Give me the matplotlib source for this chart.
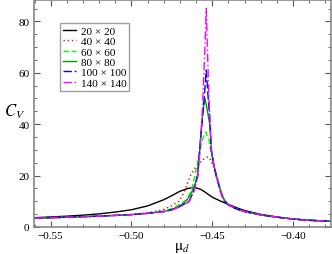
import matplotlib
matplotlib.use("Agg")
import matplotlib.pyplot as plt
from matplotlib.ticker import MultipleLocator

plt.rcParams['font.family'] = ['Liberation Serif', 'DejaVu Serif']
plt.rcParams['mathtext.fontset'] = 'stix'

labels = ["20 \u00d7 20", "40 \u00d7 40", "60 \u00d7 60", "80 \u00d7 80", "100 \u00d7 100", "140 \u00d7 140"]

x20 = [-0.56, -0.55, -0.54, -0.53, -0.52, -0.51, -0.50, -0.49, -0.48, -0.475, -0.47, -0.465, -0.462,
       -0.46, -0.457, -0.455, -0.45, -0.445, -0.44, -0.435, -0.43, -0.42, -0.41, -0.40, -0.39, -0.375]
y20 = [3.6, 3.9, 4.2, 4.6, 5.1, 5.8, 6.7, 8.2, 10.6, 12.2, 13.9, 15.0, 15.3,
       15.2, 14.6, 13.8, 11.6, 10.1, 8.8, 7.5, 6.4, 4.9, 3.9, 3.1, 2.6, 2.2]

x40 = [-0.56, -0.54, -0.52, -0.50, -0.49, -0.48, -0.475, -0.4705, -0.467, -0.4635, -0.46, -0.457, -0.455,
       -0.4527, -0.451, -0.449, -0.447, -0.445, -0.443, -0.44, -0.435, -0.43, -0.42, -0.41, -0.40, -0.39, -0.375]
y40 = [3.4, 3.8, 4.2, 4.9, 5.5, 6.8, 8.3, 10.0, 14.0, 20.0, 23.5, 25.5, 26.5,
       27.3, 26.0, 23.0, 19.5, 14.5, 11.0, 8.8, 7.0, 6.0, 4.7, 3.8, 3.1, 2.6, 2.2]

x60 = [-0.56, -0.54, -0.52, -0.50, -0.49, -0.48, -0.475, -0.47, -0.466, -0.463, -0.4607, -0.4585, -0.4565,
       -0.455, -0.454, -0.4521, -0.451, -0.4495, -0.4474, -0.445, -0.443, -0.44, -0.435, -0.43, -0.42,
       -0.41, -0.40, -0.39, -0.375]
y60 = [3.4, 3.8, 4.2, 4.8, 5.3, 6.2, 7.2, 8.8, 10.5, 14.0, 20.0, 27.0, 33.0,
       36.0, 37.0, 34.0, 30.0, 25.0, 20.0, 14.5, 11.0, 8.7, 7.0, 6.0, 4.7,
       3.8, 3.1, 2.6, 2.2]

x80 = [-0.56, -0.54, -0.52, -0.50, -0.49, -0.48, -0.475, -0.47, -0.466, -0.463, -0.4605, -0.459, -0.4578,
       -0.4566, -0.4555, -0.4545, -0.4535, -0.4516, -0.4505, -0.449, -0.4474, -0.445, -0.443, -0.44, -0.435,
       -0.43, -0.42, -0.41, -0.40, -0.39, -0.375]
y80 = [3.4, 3.8, 4.2, 4.8, 5.3, 6.0, 6.8, 8.2, 10.2, 13.0, 17.0, 20.5, 30.0,
       40.0, 46.0, 50.0, 47.0, 40.0, 30.0, 24.0, 20.0, 14.5, 11.0, 8.6, 7.0,
       6.0, 4.7, 3.8, 3.1, 2.6, 2.2]

x100 = [-0.56, -0.54, -0.52, -0.50, -0.49, -0.48, -0.475, -0.47, -0.4643, -0.4615, -0.459, -0.4577, -0.4564,
        -0.455, -0.4537, -0.4525, -0.4513, -0.4506, -0.449, -0.4476, -0.445, -0.4428, -0.44, -0.435, -0.43,
        -0.42, -0.41, -0.40, -0.39, -0.375]
y100 = [3.4, 3.8, 4.2, 4.8, 5.3, 6.0, 6.7, 8.0, 10.0, 14.0, 20.0, 30.0, 40.0,
        50.0, 61.0, 50.0, 40.0, 30.0, 24.0, 20.0, 14.0, 10.0, 8.5, 7.0, 6.0,
        4.7, 3.8, 3.1, 2.6, 2.2]

x140 = [-0.56, -0.54, -0.52, -0.50, -0.49, -0.48, -0.475, -0.47, -0.4643, -0.4615, -0.459, -0.4577, -0.4565,
        -0.4555, -0.4545, -0.4537, -0.453, -0.4523, -0.4513, -0.4506, -0.449, -0.4476, -0.445, -0.4428, -0.44,
        -0.435, -0.43, -0.42, -0.41, -0.40, -0.39, -0.375]
y140 = [3.4, 3.8, 4.2, 4.8, 5.3, 5.9, 6.6, 7.8, 9.8, 13.5, 19.5, 29.0, 40.0,
        55.0, 70.0, 85.0, 70.0, 55.0, 40.0, 30.0, 24.0, 20.0, 14.0, 10.0, 8.5,
        7.0, 6.0, 4.7, 3.8, 3.1, 2.6, 2.2]

series = [(x20, y20), (x40, y40), (x60, y60), (x80, y80), (x100, y100), (x140, y140)]
colors = ['black', '#ff0000', '#00ff00', '#00a000', '#0000ff', '#ff00ff']
styles = ['-', (0, (1, 2)), (0, (4, 2)), '-', (0, (6, 2)), (0, (6, 2, 1, 2))]

fig = plt.figure(figsize=(3.32, 2.55), dpi=100)
ax = fig.add_axes([0.1015, 0.106, 0.8955, 0.890])

for (xs, ys), c, ls, lab in zip(series, colors, styles, labels):
    ax.plot(xs, ys, color=c, ls=ls, lw=1.0, label=lab)

ax.set_xlim(-0.5605, -0.3765)
ax.set_ylim(0, 88.3)
ax.xaxis.set_major_locator(MultipleLocator(0.05))
ax.xaxis.set_minor_locator(MultipleLocator(0.01))
ax.yaxis.set_major_locator(MultipleLocator(20))
ax.yaxis.set_minor_locator(MultipleLocator(5))
ax.tick_params(which='both', direction='in', top=True, right=True, color='#555555', labelsize=8, pad=3)
ax.tick_params(which='major', length=4, width=0.8)
ax.tick_params(which='minor', length=2.5, width=0.6)
for s in ax.spines.values():
    s.set_color('#888888')
    s.set_linewidth(1.2)

ax.set_xlabel(r"$\mathrm{\mu}_{d}$", fontsize=11, labelpad=0)
ax.set_ylabel(r"$C_V$", fontsize=12, rotation=0, labelpad=8)
ax.yaxis.set_label_coords(-0.065, 0.47)

leg = ax.legend(loc='upper left', bbox_to_anchor=(0.09, 0.899), fontsize=8.1, frameon=True,
                fancybox=False, edgecolor='#888888', handlelength=1.1, handletextpad=0.45,
                borderpad=0.25, labelspacing=0.05, borderaxespad=0)
leg.get_frame().set_linewidth(1.0)

fig.savefig("out.png", dpi=100)
